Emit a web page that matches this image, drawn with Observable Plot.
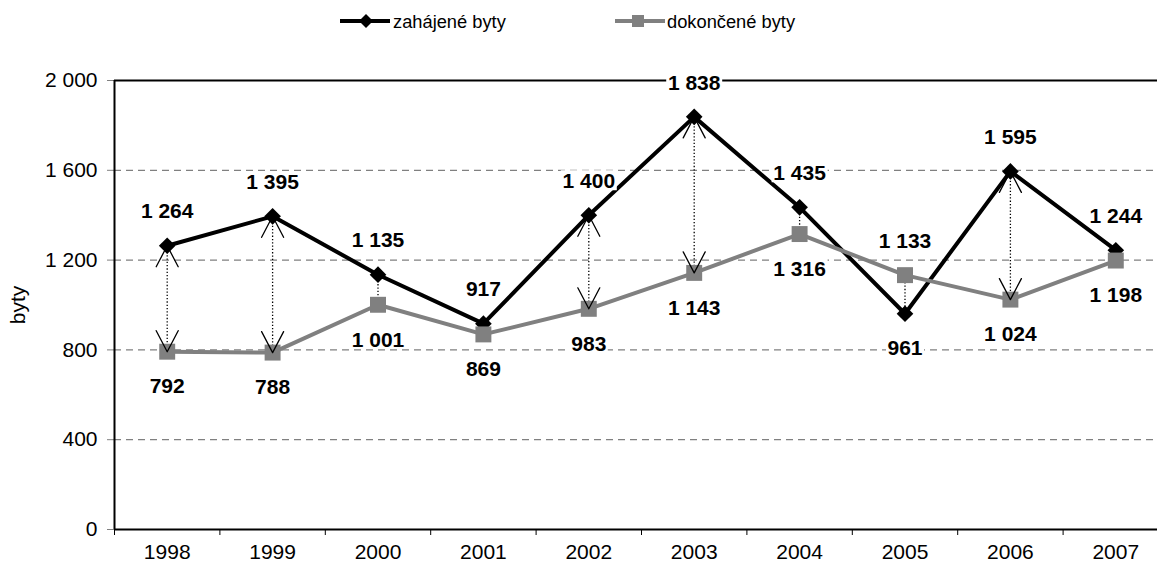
<!DOCTYPE html>
<html>
<head>
<meta charset="utf-8">
<script src="https://cdn.jsdelivr.net/npm/d3@7"></script>
<script src="https://cdn.jsdelivr.net/npm/@observablehq/plot@0.6"></script>
<style>
  html, body { margin: 0; padding: 0; background: white; }
  body { width: 1157px; height: 569px; overflow: hidden; font-family: "Liberation Sans", Arial, sans-serif; }
  #legend { display: block; }
</style>
</head>
<body>
<svg id="legend" width="1157" height="40" font-family="Liberation Sans, Arial, sans-serif" font-size="18.3">
  <line x1="340" y1="21" x2="390" y2="21" stroke="black" stroke-width="4"/>
  <path d="M366,14 L373,21 L366,28 L359,21 Z" fill="black"/>
  <text x="393" y="28" fill="black">zahájené byty</text>
  <line x1="615" y1="21" x2="665" y2="21" stroke="#808080" stroke-width="4"/>
  <rect x="632" y="15" width="12" height="12" fill="#808080"/>
  <text x="667" y="28" fill="black">dokončené byty</text>
</svg>
<div id="chart"></div>
<script>
const years = [1998, 1999, 2000, 2001, 2002, 2003, 2004, 2005, 2006, 2007];
const started = [1264, 1395, 1135, 917, 1400, 1838, 1435, 961, 1595, 1244];
const completed = [792, 788, 1001, 869, 983, 1143, 1316, 1133, 1024, 1198];
const arrowYears = [1998, 1999, 2002, 2003, 2006];
const yTicks = [0, 400, 800, 1200, 1600, 2000];
const gridTicks = [400, 800, 1200, 1600];
const seriesNames = ["zahájené byty", "dokončené byty"];
const yLabel = "byty";

const rows = years.map((year, i) => ({ year, started: started[i], completed: completed[i] }));
const fmt = d => d3.format(",")(d).replace(/,/g, " ");
const boundaries = years.map(y => y - 0.5);

const head = {
  draw(context) {
    context.moveTo(-11, 21);
    context.lineTo(0, 0);
    context.lineTo(11, 21);
  }
};
const box = w => ({ draw(context) { context.rect(-w / 2, -11, w, 20); } });

const headed = rows.filter(d => arrowYears.includes(d.year));
const labelFont = { fontSize: 21, fontWeight: "bold", fill: "black" };

// data labels: the higher series above its point, the lower series below
function labelMarks(key) {
  const up = rows.filter(d => (key === "started") === (d.started >= d.completed));
  const down = rows.filter(d => (key === "started") !== (d.started >= d.completed));
  const marks = [];
  for (const [set, dy] of [[up, -34], [down, 35]]) {
    for (const big of [true, false]) {
      const sub = set.filter(d => (d[key] >= 1000) === big);
      marks.push(Plot.dot(sub, { x: "year", y: key, dy, symbol: box(big ? 56 : 38), fill: "white", stroke: "none" }));
    }
    marks.push(Plot.text(set, { x: "year", y: key, text: d => fmt(d[key]), dy, ...labelFont }));
  }
  return marks;
}

const chart = Plot.plot({
  width: 1157,
  height: 529,
  marginTop: 40,
  marginBottom: 40,
  marginLeft: 114,
  marginRight: 0,
  style: { fontFamily: "Liberation Sans, Arial, sans-serif", fontSize: "21px", color: "black", background: "white", overflow: "hidden" },
  x: { type: "linear", domain: [1997.5, 2007.5], range: [114, 1168] },
  y: { domain: [0, 2000] },
  marks: [
    Plot.ruleY(gridTicks, { stroke: "#808080", strokeWidth: 1.3, strokeDasharray: "7,5" }),
    Plot.ruleY([2000], { stroke: "black", strokeWidth: 2 }),
    Plot.axisY({ ticks: yTicks, tickFormat: fmt, tickSize: 7, tickPadding: 10, stroke: "#808080", fill: "black", fontSize: 21,
                 label: yLabel, labelAnchor: "center", labelArrow: "none", labelOffset: 104 }),
    Plot.axisX({ ticks: boundaries, tickSize: 6, tickFormat: () => "", label: null, stroke: "black" }),
    Plot.axisX({ ticks: years, tickSize: 0, tickPadding: 15, tickFormat: d => String(d), label: null, fontSize: 21 }),
    Plot.ruleX([1997.5], { y1: 0, y2: 2000, stroke: "black", strokeWidth: 2 }),
    Plot.ruleY([0], { stroke: "black", strokeWidth: 2 }),
    Plot.ruleX(rows, { x: "year", y1: "started", y2: "completed", stroke: "black", strokeWidth: 1.3, strokeDasharray: "1.3,2" }),
    Plot.line(rows, { x: "year", y: "started", stroke: "black", strokeWidth: 4 }),
    Plot.dot(rows, { x: "year", y: "started", symbol: "diamond2", r: 7.5, fill: "black", stroke: "none" }),
    Plot.line(rows, { x: "year", y: "completed", stroke: "#808080", strokeWidth: 4 }),
    Plot.dot(rows, { x: "year", y: "completed", symbol: "square", r: 9, fill: "#808080", stroke: "none" }),
    Plot.vector(headed, { x: "year", y: d => Math.max(d.started, d.completed), rotate: 0, anchor: "start", length: 1, shape: head, stroke: "black", strokeWidth: 1.3 }),
    Plot.vector(headed, { x: "year", y: d => Math.min(d.started, d.completed), rotate: 180, anchor: "start", length: 1, shape: head, stroke: "black", strokeWidth: 1.3 }),
    ...labelMarks("started"),
    ...labelMarks("completed")
  ]
});
document.getElementById("chart").appendChild(chart);
</script>
</body>
</html>
